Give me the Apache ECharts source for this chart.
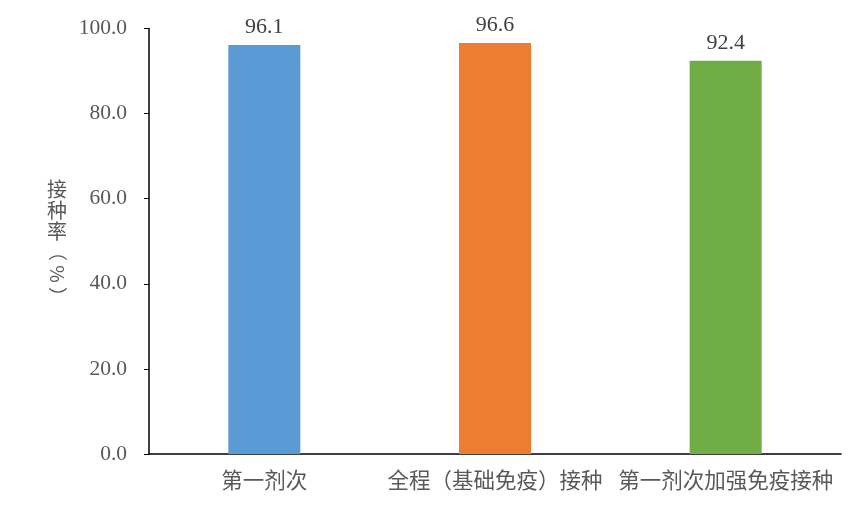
<!DOCTYPE html>
<html>
<head>
<meta charset="utf-8">
<script src="https://cdn.jsdelivr.net/npm/echarts@6/dist/echarts.min.js"></script>
<style>html,body{margin:0;padding:0;background:#fff;}#c{width:861px;height:512px;}</style>
</head>
<body>
<div id="c"></div>
<script>
var categories = ['第一剂次', '全程（基础免疫）接种', '第一剂次加强免疫接种'];
var values = [96.1, 96.6, 92.4];
var colors = ['#5B9BD5', '#ED7D31', '#70AD47'];
var yTicks = {min: 0, max: 100, interval: 20};

var chart = echarts.init(document.getElementById('c'));
chart.setOption({
  animation: false,
  backgroundColor: '#ffffff',
  grid: {left: 149, right: 20, top: 28.5, bottom: 58},
  xAxis: {
    type: 'category',
    data: categories,
    axisLine: {lineStyle: {color: '#000', width: 1.5}},
    axisTick: {show: false},
    axisLabel: {color: '#595959', fontSize: 21.5, fontFamily: 'Noto Sans CJK SC', margin: 15, interval: 0}
  },
  yAxis: {
    type: 'value',
    min: yTicks.min, max: yTicks.max, interval: yTicks.interval,
    axisLine: {show: true, lineStyle: {color: '#000', width: 1.5}},
    axisTick: {show: true, inside: false, length: 5, lineStyle: {color: '#000'}},
    splitLine: {show: false},
    axisLabel: {color: '#595959', fontSize: 21.5, fontFamily: 'Liberation Serif', margin: 22,
      formatter: function (v) { return v.toFixed(1); }}
  },
  series: [{
    type: 'bar',
    data: values.map(function (v, i) { return {value: v, itemStyle: {color: colors[i]}}; }),
    barWidth: 72,
    label: {show: true, position: 'top', distance: 7, color: '#404040', fontSize: 22,
      fontFamily: 'Liberation Serif', formatter: function (p) { return p.value.toFixed(1); }}
  }],
  graphic: [
    {type: 'text', x: 57, y: 179, style: {text: '接\n种\n率', fill: '#595959', fontSize: 20,
      fontFamily: 'Noto Sans CJK SC', textAlign: 'center', textVerticalAlign: 'top', lineHeight: 21}},
    {type: 'text', x: 57, y: 274, rotation: -Math.PI / 2, style: {text: '（ % ）', fill: '#595959', fontSize: 19,
      fontFamily: 'Noto Sans CJK SC', textAlign: 'center', textVerticalAlign: 'middle'}}
  ]
});
</script>
</body>
</html>
